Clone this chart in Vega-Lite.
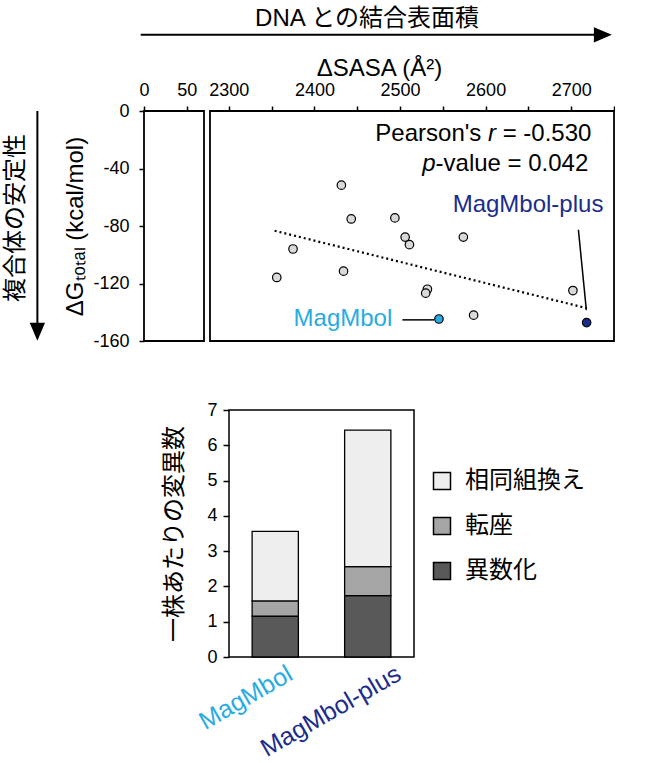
{
  "$schema": "https://vega.github.io/schema/vega-lite/v6.json",
  "background": "white",
  "padding": {"left": 3, "top": 7, "right": 0, "bottom": 0},
  "config": {
    "font": "Liberation Sans, Noto Sans CJK JP, sans-serif",
    "view": {"stroke": null},
    "axis": {
      "grid": false,
      "labelColor": "black",
      "titleColor": "black",
      "tickColor": "black",
      "domainColor": "black",
      "titleFontWeight": "normal",
      "labelFontSize": 18,
      "titleFontSize": 24,
      "tickWidth": 1.5,
      "tickSize": 5
    },
    "title": {"fontWeight": "normal", "color": "black"},
    "legend": {"labelColor": "black"}
  },
  "resolve": {"scale": {"color": "independent", "shape": "independent"}, "legend": {"color": "independent"}},
  "spacing": 50,
  "vconcat": [
    {
      "width": 470,
      "height": 230,
      "title": {
        "text": "DNA との結合表面積",
        "fontSize": 24,
        "anchor": "middle",
        "frame": "group",
        "dx": -12,
        "offset": -4
      },
      "layer": [
        {
          "data": {"values": [{"lo": 0, "hi": 70}, {"lo": 2278, "hi": 2750}]},
          "mark": {"type": "rect", "filled": false, "color": "black", "strokeWidth": 1.8},
          "encoding": {
            "x": {
              "field": "lo",
              "type": "quantitative",
              "scale": {"domain": [0, 70, 2278, 2750], "range": [0, 60, 66, 470], "nice": false, "zero": false},
              "axis": {
                "orient": "top",
                "values": [0, 50, 2300, 2350, 2400, 2450, 2500, 2550, 2600, 2650, 2700, 2750],
                "labelExpr": "datum.value <= 50 || datum.value % 100 == 0 ? '' + datum.value : ''",
                "labelOverlap": false,
                "labelFlush": false,
                "domain": false,
                "labelPadding": 7,
                "title": "ΔSASA (Å²)",
                "titlePadding": 1
              }
            },
            "x2": {"field": "hi"},
            "y": {
              "datum": -160,
              "type": "quantitative",
              "scale": {"domain": [-160, 0], "nice": false},
              "axis": {
                "values": [-160, -140, -120, -100, -80, -60, -40, -20, 0],
                "labelExpr": "datum.value % 40 == 0 ? '' + datum.value : ''",
                "domain": false,
                "labelPadding": 10,
                "title": "ΔGₜₒₜₐₗ (kcal/mol)",
                "titleFontSize": 24,
                "titlePadding": 5
              }
            },
            "y2": {"datum": 0}
          }
        },
        {
          "data": {"values": [{"x": 2353.5, "y": -83.3}, {"x": 2718.4, "y": -137.2}]},
          "mark": {"type": "line", "strokeDash": [2, 3], "strokeWidth": 2.2, "color": "black"},
          "encoding": {
            "x": {"field": "x", "type": "quantitative"},
            "y": {"field": "y", "type": "quantitative"}
          }
        },
        {
          "data": {"values": [
            {"x": 2502.8, "y": -145.3, "x2": 2539.7, "y2": -145.3},
            {"x": 2708.4, "y": -82.6, "x2": 2717.7, "y2": -138.5}
          ]},
          "mark": {"type": "rule", "strokeWidth": 1.5, "color": "black"},
          "encoding": {
            "x": {"field": "x", "type": "quantitative"},
            "y": {"field": "y", "type": "quantitative"},
            "x2": {"field": "x2"},
            "y2": {"field": "y2"}
          }
        },
        {
          "data": {"values": [
            {"sasa": 2431.5, "dg": -51.6, "name": "other"},
            {"sasa": 2443, "dg": -75.1, "name": "other"},
            {"sasa": 2494, "dg": -74.4, "name": "other"},
            {"sasa": 2506, "dg": -87.7, "name": "other"},
            {"sasa": 2511, "dg": -93.0, "name": "other"},
            {"sasa": 2574, "dg": -87.7, "name": "other"},
            {"sasa": 2375, "dg": -96.0, "name": "other"},
            {"sasa": 2356, "dg": -115.8, "name": "other"},
            {"sasa": 2434, "dg": -111.4, "name": "other"},
            {"sasa": 2532, "dg": -124.0, "name": "other"},
            {"sasa": 2530, "dg": -126.7, "name": "other"},
            {"sasa": 2702, "dg": -124.9, "name": "other"},
            {"sasa": 2586, "dg": -142.0, "name": "other"},
            {"sasa": 2545.5, "dg": -144.7, "name": "MagMbol"},
            {"sasa": 2718, "dg": -147.2, "name": "MagMbol-plus"}
          ]},
          "mark": {"type": "point", "filled": true, "shape": "circle", "size": 72, "stroke": "black", "strokeWidth": 1.2, "opacity": 1},
          "encoding": {
            "x": {"field": "sasa", "type": "quantitative"},
            "y": {"field": "dg", "type": "quantitative"},
            "color": {
              "field": "name",
              "type": "nominal",
              "scale": {"domain": ["other", "MagMbol", "MagMbol-plus"], "range": ["#d9d9d9", "#29abe2", "#1b2c8c"]},
              "legend": null
            }
          }
        },
        {
          "data": {"values": [
            {"name": "MagMbol", "x": 2491, "y": -144.7},
            {"name": "MagMbol-plus", "x": 2737.6, "y": -65.1}
          ]},
          "mark": {"type": "text", "align": "right", "baseline": "middle", "fontSize": 24},
          "encoding": {
            "x": {"field": "x", "type": "quantitative"},
            "y": {"field": "y", "type": "quantitative"},
            "text": {"field": "name"},
            "color": {
              "field": "name",
              "type": "nominal",
              "scale": {"domain": ["other", "MagMbol", "MagMbol-plus"], "range": ["#d9d9d9", "#29abe2", "#1b2c8c"]},
              "legend": null
            }
          }
        },
        {
          "data": {"values": [
            {"t": "Pearson's", "x": 2595, "y": -16.3},
            {"t": "= -0.530", "x": 2723.6, "y": -16.3},
            {"t": "-value = 0.042", "x": 2720, "y": -37.2}
          ]},
          "mark": {"type": "text", "align": "right", "baseline": "middle", "fontSize": 24, "color": "black"},
          "encoding": {
            "x": {"field": "x", "type": "quantitative"},
            "y": {"field": "y", "type": "quantitative"},
            "text": {"field": "t"}
          }
        },
        {
          "data": {"values": [
            {"t": "r", "x": 2612, "y": -16.3},
            {"t": "p", "x": 2541.6, "y": -37.2}
          ]},
          "mark": {"type": "text", "align": "right", "baseline": "middle", "fontSize": 24, "fontStyle": "italic", "color": "black"},
          "encoding": {
            "x": {"field": "x", "type": "quantitative"},
            "y": {"field": "y", "type": "quantitative"},
            "text": {"field": "t"}
          }
        },
        {
          "data": {"values": [
            {"x": -3.85, "x2": 2737, "y": 53, "y2": 53},
            {"x": -124.4, "x2": -124.4, "y": 0, "y2": -153.5}
          ]},
          "mark": {"type": "rule", "strokeWidth": 2, "color": "black"},
          "encoding": {
            "x": {"field": "x", "type": "quantitative"},
            "y": {"field": "y", "type": "quantitative"},
            "x2": {"field": "x2"},
            "y2": {"field": "y2"}
          }
        },
        {
          "data": {"values": [
            {"x": 2737, "y": 53, "dir": "right"},
            {"x": -124.4, "y": -153.5, "dir": "down"}
          ]},
          "mark": {"type": "point", "filled": true, "color": "black", "size": 324, "opacity": 1, "strokeWidth": 0},
          "encoding": {
            "x": {"field": "x", "type": "quantitative"},
            "y": {"field": "y", "type": "quantitative"},
            "shape": {
              "field": "dir",
              "type": "nominal",
              "scale": {"domain": ["right", "down"], "range": ["M1,0L-1,-0.85L-1,0.85Z", "M0,1L-0.85,-1L0.85,-1Z"]},
              "legend": null
            }
          }
        },
        {
          "data": {"values": [{"t": "複合体の安定性", "x": -149.7, "y": -74.4}]},
          "mark": {"type": "text", "angle": 270, "fontSize": 24, "align": "center", "baseline": "middle", "color": "black"},
          "encoding": {
            "x": {"field": "x", "type": "quantitative"},
            "y": {"field": "y", "type": "quantitative"},
            "text": {"field": "t"}
          }
        }
      ]
    },
    {
      "spacing": 0,
      "hconcat": [
        {
          "width": 18,
          "height": 10,
          "data": {"values": [{}]},
          "mark": {"type": "rect", "opacity": 0},
          "encoding": {}
        },
        {
          "width": 185,
          "height": 247,
          "view": {"stroke": "black", "strokeWidth": 1.5},
          "data": {"values": [
            {"strain": "MagMbol", "type": "異数化", "count": 1.16, "rank": 1},
            {"strain": "MagMbol", "type": "転座", "count": 0.43, "rank": 2},
            {"strain": "MagMbol", "type": "相同組換え", "count": 1.97, "rank": 3},
            {"strain": "MagMbol-plus", "type": "異数化", "count": 1.74, "rank": 1},
            {"strain": "MagMbol-plus", "type": "転座", "count": 0.82, "rank": 2},
            {"strain": "MagMbol-plus", "type": "相同組換え", "count": 3.87, "rank": 3}
          ]},
          "mark": {"type": "bar", "stroke": "black", "strokeWidth": 1.3},
          "encoding": {
            "x": {
              "field": "strain",
              "type": "nominal",
              "sort": null,
              "scale": {"paddingInner": 0.5, "paddingOuter": 0.25},
              "axis": {
                "title": null,
                "labelAngle": -30,
                "labelFontSize": 25,
                "ticks": false,
                "domain": false,
                "labelOffset": {"condition": {"test": "datum.value == 'MagMbol'", "value": 9}, "value": 25},
                "labelPadding": 4,
                "labelColor": {"condition": {"test": "datum.value == 'MagMbol'", "value": "#29abe2"}, "value": "#1b2c8c"}
              }
            },
            "y": {
              "field": "count",
              "type": "quantitative",
              "stack": "zero",
              "scale": {"domain": [0, 7], "nice": false},
              "axis": {
                "values": [0, 1, 2, 3, 4, 5, 6, 7],
                "title": "一株あたりの変異数",
                "titleFontSize": 24,
                "domain": false,
                "tickSize": 6,
                "labelPadding": 6,
                "titlePadding": 20
              }
            },
            "color": {
              "field": "type",
              "type": "nominal",
              "scale": {"domain": ["相同組換え", "転座", "異数化"], "range": ["#eeeeee", "#a5a5a5", "#595959"]},
              "legend": {
                "title": null,
                "orient": "none",
                "legendX": 286,
                "legendY": 59,
                "padding": 0,
                "symbolType": "square",
                "symbolSize": 289,
                "symbolStrokeColor": "black",
                "symbolStrokeWidth": 1.5,
                "labelFontSize": 24,
                "labelOffset": 11,
                "rowPadding": 21
              }
            },
            "order": {"field": "rank", "type": "quantitative"}
          }
        }
      ]
    }
  ]
}
